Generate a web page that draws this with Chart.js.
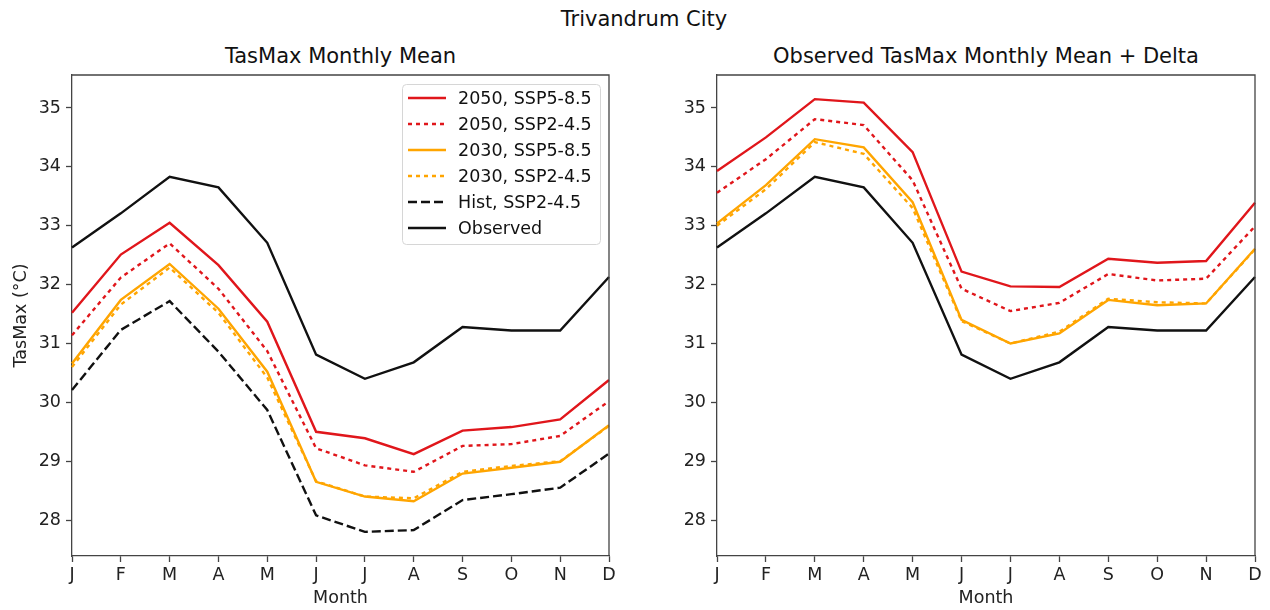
<!DOCTYPE html>
<html>
<head>
<meta charset="utf-8">
<script src="https://cdn.jsdelivr.net/npm/chart.js@4.4.0/dist/chart.umd.min.js"></script>
<style>
    body { margin: 0; background: #fff; width: 1270px; height: 610px; overflow: hidden; position: relative; font-family: 'DejaVu Sans', sans-serif; color: #111; }
    .panel { position: absolute; top: 0; width: 635px; height: 610px; }
    .ttl { position: absolute; text-align: center; font-size: 21px; white-space: nowrap; }
</style>
</head>
<body>
<div class="ttl" style="left:9px;width:1270px;top:7px;">Trivandrum City</div>
<div class="ttl" style="left:72px;width:537px;top:44px;">TasMax Monthly Mean</div>
<div class="ttl" style="left:717px;width:538px;top:44px;">Observed TasMax Monthly Mean + Delta</div>
<div class="panel" style="left:0"><canvas id="meanChart" width="635" height="610"></canvas></div>
<div class="panel" style="left:635px"><canvas id="deltaChart" width="635" height="610"></canvas></div>

<script>
// month labels and y ticks
var months = ['J', 'F', 'M', 'A', 'M', 'J', 'J', 'A', 'S', 'O', 'N', 'D'];
var yTicks = [28, 29, 30, 31, 32, 33, 34, 35];

// left panel: model monthly means
var observed = [32.63, 33.21, 33.83, 33.65, 32.71, 30.81, 30.40, 30.68, 31.28, 31.22, 31.22, 32.13];
var hist245 = [30.21, 31.23, 31.72, 30.86, 29.87, 28.08, 27.80, 27.83, 28.34, 28.44, 28.55, 29.13];
var mean2050ssp585 = [31.52, 32.51, 33.05, 32.33, 31.37, 29.50, 29.39, 29.12, 29.52, 29.58, 29.71, 30.38];
var mean2050ssp245 = [31.14, 32.12, 32.70, 31.93, 30.87, 29.22, 28.93, 28.82, 29.26, 29.29, 29.43, 30.02];
var mean2030ssp585 = [30.66, 31.74, 32.35, 31.59, 30.52, 28.65, 28.40, 28.32, 28.79, 28.89, 28.99, 29.61];
var mean2030ssp245 = [30.60, 31.66, 32.29, 31.52, 30.42, 28.66, 28.40, 28.37, 28.82, 28.92, 29.00, 29.60];

// right panel: observed + delta
var delta2050ssp585 = [33.93, 34.50, 35.15, 35.09, 34.25, 32.22, 31.97, 31.96, 32.44, 32.37, 32.40, 33.39];
var delta2050ssp245 = [33.56, 34.13, 34.81, 34.71, 33.77, 31.93, 31.55, 31.69, 32.18, 32.07, 32.10, 32.99];
var delta2030ssp585 = [33.04, 33.69, 34.47, 34.33, 33.40, 31.40, 31.00, 31.17, 31.74, 31.65, 31.68, 32.61];
var delta2030ssp245 = [33.00, 33.62, 34.42, 34.22, 33.30, 31.38, 31.00, 31.20, 31.76, 31.70, 31.68, 32.60];

var RED = '#e0161b';
var ORANGE = '#ffa500';
var BLACK = '#111111';
var DOTTED = [4, 4];
var DASHED = [9, 4];
var FONT = 'DejaVu Sans';
var FSIZE = 17.5;

function line(label, data, color, dash) {
    return {
        label: label,
        data: data,
        borderColor: color,
        backgroundColor: color,
        borderWidth: 2.4,
        borderDash: dash || [],
        borderCapStyle: 'butt',
        pointRadius: 0,
        tension: 0,
        fill: false
    };
}

// draws the top and right spines like matplotlib
var framePlugin = {
    id: 'frame',
    afterDraw: function (chart) {
        var a = chart.chartArea, ctx = chart.ctx;
        ctx.save();
        ctx.strokeStyle = '#444';
        ctx.lineWidth = 1.3;
        ctx.beginPath();
        ctx.moveTo(a.left, a.top);
        ctx.lineTo(a.right, a.top);
        ctx.lineTo(a.right, a.bottom);
        ctx.stroke();
        ctx.restore();
    }
};

// legend box inside the plot, upper right
var boxLegend = {
    id: 'boxLegend',
    afterDraw: function (chart, args, opts) {
        if (!opts.show) return;
        var a = chart.chartArea, ctx = chart.ctx;
        var w = 198, h = 160;
        var x = a.right - 9 - w, y = a.top + 9;
        ctx.save();
        ctx.fillStyle = 'rgba(255,255,255,0.85)';
        ctx.strokeStyle = '#d6d6d6';
        ctx.lineWidth = 1;
        ctx.beginPath();
        ctx.roundRect(x + 0.5, y + 0.5, w, h, 4);
        ctx.fill();
        ctx.stroke();
        ctx.font = FSIZE + 'px "' + FONT + '"';
        ctx.textBaseline = 'middle';
        chart.data.datasets.forEach(function (ds, i) {
            var cy = y + 14 + i * 26;
            ctx.strokeStyle = ds.borderColor;
            ctx.lineWidth = ds.borderWidth;
            ctx.setLineDash(ds.borderDash);
            ctx.beginPath();
            ctx.moveTo(x + 6, cy);
            ctx.lineTo(x + 44, cy);
            ctx.stroke();
            ctx.setLineDash([]);
            ctx.fillStyle = '#111';
            ctx.fillText(ds.label, x + 56, cy + 1);
        });
        ctx.restore();
    }
};

function makeChart(id, datasets, yWidth, padRight, showY, showLegend) {
    return new Chart(document.getElementById(id), {
        type: 'line',
        data: { labels: months, datasets: datasets },
        plugins: [framePlugin, boxLegend],
        options: {
            responsive: false,
            animation: false,
            devicePixelRatio: 1,
            layout: { padding: { left: 0, top: 75, right: padRight, bottom: 0 } },
            plugins: {
                legend: { display: false },
                tooltip: { enabled: false },
                boxLegend: { show: showLegend }
            },
            scales: {
                x: {
                    offset: false,
                    grid: { drawOnChartArea: false, drawTicks: true, tickLength: 6, color: '#444', tickWidth: 1.3 },
                    border: { display: true, color: '#444', width: 1.3 },
                    ticks: { color: '#222', font: { family: FONT, size: FSIZE }, padding: 3, maxRotation: 0, autoSkip: false },
                    title: { display: true, text: 'Month', color: '#222', font: { family: FONT, size: FSIZE }, padding: { top: 0, bottom: 1 } },
                    afterFit: function (scale) { scale.height = 54; }
                },
                y: {
                    min: 27.39,
                    max: 35.56,
                    afterBuildTicks: function (scale) {
                        scale.ticks = yTicks.map(function (v) { return { value: v }; });
                    },
                    grid: { drawOnChartArea: false, drawTicks: true, tickLength: 6, color: '#444', tickWidth: 1.3 },
                    border: { display: true, color: '#444', width: 1.3 },
                    ticks: { color: '#222', font: { family: FONT, size: FSIZE }, padding: 5 },
                    title: { display: showY, text: 'TasMax (°C)', color: '#222', font: { family: FONT, size: FSIZE }, padding: { top: 11, bottom: 0 } },
                    afterFit: function (scale) { scale.width = yWidth; }
                }
            }
        }
    });
}

var meanChart = makeChart('meanChart', [
    line('2050, SSP5-8.5', mean2050ssp585, RED),
    line('2050, SSP2-4.5', mean2050ssp245, RED, DOTTED),
    line('2030, SSP5-8.5', mean2030ssp585, ORANGE),
    line('2030, SSP2-4.5', mean2030ssp245, ORANGE, DOTTED),
    line('Hist, SSP2-4.5', hist245, BLACK, DASHED),
    line('Observed', observed, BLACK)
], 72, 26, true, true);

var deltaChart = makeChart('deltaChart', [
    line('2050, SSP5-8.5', delta2050ssp585, RED),
    line('2050, SSP2-4.5', delta2050ssp245, RED, DOTTED),
    line('2030, SSP5-8.5', delta2030ssp585, ORANGE),
    line('2030, SSP2-4.5', delta2030ssp245, ORANGE, DOTTED),
    line('Observed', observed, BLACK)
], 82, 15, false, false);
</script>
</body>
</html>
